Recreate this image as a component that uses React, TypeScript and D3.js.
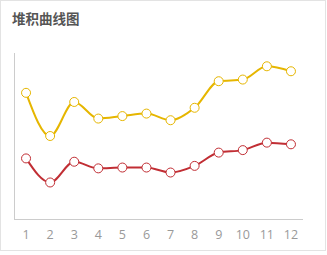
import React from "react";
import * as d3 from "d3";

const categories = ["1", "2", "3", "4", "5", "6", "7", "8", "9", "10", "11", "12"];
const seriesA = [73, 44, 69, 61, 62, 62, 56, 64, 80, 83, 92, 90];
const seriesB = [79, 56, 72, 60, 62, 65, 63, 70, 86, 85, 92, 88];
const title = "堆积曲线图";
const colors = ["#c12e34", "#e6b600"];

export default function App() {
  const W = 327, H = 255;
  const left = 14, right = 303, top = 53, bottom = 219;
  const x = d3.scaleBand<string>().domain(categories).range([left, right]);
  const y = d3.scaleLinear().domain([0, 200]).range([bottom, top]);
  const stackA = seriesA;
  const stackB = seriesA.map((v, i) => v + seriesB[i]);
  const cx = (c: string) => (x(c) as number) + x.bandwidth() / 2;
  const line = d3
    .line<number>()
    .x((_, i) => cx(categories[i]))
    .y((d) => y(d))
    .curve(d3.curveMonotoneX);
  const series = [stackA, stackB];
  return (
    <svg width={W} height={H} style={{ position: "absolute", left: 0, top: 0, fontFamily: "'Noto Sans CJK SC', 'Noto Sans', sans-serif" }}>
      <rect x={0.5} y={0.5} width={325} height={250} fill="#fff" stroke="#e3e3e3" />
      <text x={12} y={24} fontSize={13.5} fontWeight="bold" fill="#555">{title}</text>
      <line x1={left + 0.5} x2={left + 0.5} y1={top} y2={bottom} stroke="#ccc" />
      <line x1={left} x2={right} y1={bottom + 0.5} y2={bottom + 0.5} stroke="#ccc" />
      {categories.map((c) => (
        <text key={c} x={cx(c)} y={239} fontSize={12.5} fill="#999" textAnchor="middle" fontFamily="'Open Sans', 'Noto Sans', sans-serif">{c}</text>
      ))}
      {series.map((s, k) => (
        <g key={k}>
          <path d={line(s) || ""} fill="none" stroke={colors[k]} strokeWidth={2} />
          {s.map((v, i) => (
            <circle key={i} cx={cx(categories[i])} cy={y(v)} r={4.5} fill="#fff" stroke={colors[k]} strokeWidth={1} />
          ))}
        </g>
      ))}
    </svg>
  );
}
